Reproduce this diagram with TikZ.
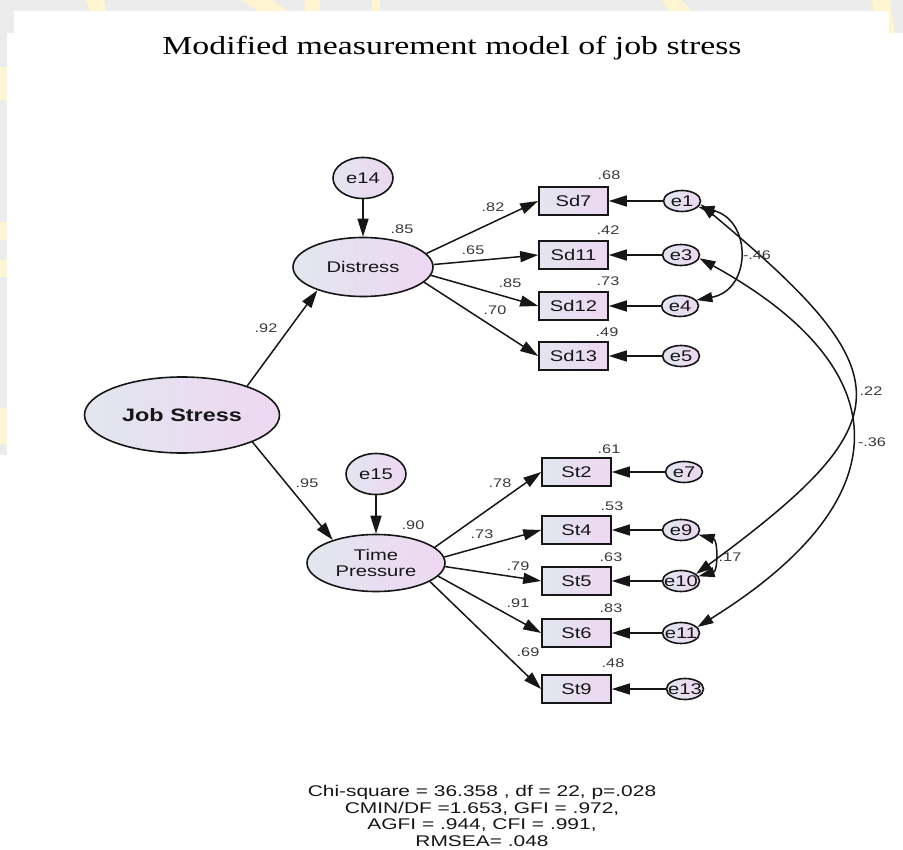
\documentclass[tikz,border=0pt]{standalone}
\usepackage{fontspec}
\usepackage{graphicx}
\usetikzlibrary{arrows.meta,shapes.geometric}
\newfontfamily\amosfont{Liberation Sans}
\newfontfamily\ttlfont{Liberation Serif}
\newcommand{\amoswide}[1]{\scalebox{1.3}[1]{#1}}
\newcommand{\etext}[1]{\makebox[0pt]{\amoswide{#1}}}
\newcommand{\ftline}[1]{\scalebox{1.35}[1]{#1}}

\definecolor{shadeL}{RGB}{226,230,239}
\definecolor{shadeR}{RGB}{238,215,242}
\definecolor{bggrey}{RGB}{235,236,235}
\definecolor{wmyellow}{RGB}{255,245,208}
\definecolor{ink}{RGB}{22,22,22}

\tikzset{
  amosfill/.style={left color=shadeL, right color=shadeR},
  latent/.style={ellipse, draw=ink, line width=1.6pt, amosfill, inner sep=0pt,
    text=ink, font=\amosfont\fontsize{15.5}{17}\selectfont},
  observed/.style={rectangle, draw=ink, line width=1.6pt, amosfill, inner sep=0pt,
    minimum width=69pt, minimum height=28pt, text=ink,
    font=\amosfont\fontsize{15.5}{17}\selectfont},
  errsmall/.style={ellipse, draw=ink, line width=1.6pt, amosfill, inner sep=0pt,
    minimum width=37pt, minimum height=21pt, text=ink,
    font=\amosfont\fontsize{15.5}{17}\selectfont},
  errbig/.style={ellipse, draw=ink, line width=1.6pt, amosfill, inner sep=0pt,
    minimum width=60pt, minimum height=41pt, text=ink,
    font=\amosfont\fontsize{15.5}{17}\selectfont},
  coef/.style={inner sep=0pt, text=ink!85, font=\amosfont\fontsize{12.5}{14}\selectfont},
  loading/.style={draw=ink, line width=1.5pt, -{Triangle[length=18pt,width=11pt]}},
  cov/.style={draw=ink, line width=1.5pt,
    {Triangle[length=16pt,width=10pt]}-{Triangle[length=16pt,width=10pt]}},
}

\begin{document}
\begin{tikzpicture}[x=1pt,y=-1pt]
\useasboundingbox (0,0) rectangle (903,850);

% page background with the grey frame strips and pale yellow marks
\fill[white] (0,0) rectangle (903,850);
\fill[bggrey] (0,0) rectangle (903,11);
\fill[bggrey] (0,11) rectangle (14,33);
\fill[bggrey] (889,11) rectangle (903,33);
\fill[bggrey] (0,33) rectangle (7,455);
\begin{scope}
  \clip (0,0) rectangle (903,11) (0,11) rectangle (14,33) (889,11) rectangle (903,33) (0,33) rectangle (7,455);
  \fill[wmyellow] (86,0) -- (104,0) -- (107,11) -- (90,11) -- cycle;
  \fill[wmyellow] (242,0) -- (272,0) -- (288,11) -- (258,11) -- cycle;
  \fill[wmyellow] (305,0) rectangle (320,11);
  \fill[wmyellow] (372,0) rectangle (380,11);
  \fill[wmyellow] (662,0) -- (682,0) -- (691,11) -- (670,11) -- cycle;
  \fill[wmyellow] (872,0) -- (890,0) -- (895,33) -- (878,33) -- cycle;
  \fill[wmyellow] (0,67) rectangle (7,100);
  \fill[wmyellow] (0,222) rectangle (7,240);
  \fill[wmyellow] (0,260) rectangle (7,277);
  \fill[wmyellow] (0,408) rectangle (7,444);
\end{scope}

% title
\node[anchor=base, inner sep=0pt, font=\ttlfont\fontsize{26}{30}\selectfont] (title) at (452,55)
  {\scalebox{1.3}[1]{Modified measurement model of job stress}};

% latent variables
\node[latent, minimum width=195pt, minimum height=76pt,
      font=\amosfont\bfseries\fontsize{18}{20}\selectfont] (js) at (182,415) {\amoswide{Job Stress}};
\node[latent, minimum width=140pt, minimum height=59pt] (dis) at (363,267) {\amoswide{Distress}};
\node[latent, minimum width=138pt, minimum height=57pt, align=center] (tp) at (376,563)
  {\amoswide{Time}\\[-1pt]\amoswide{Pressure}};

% disturbances
\node[errbig] (e14) at (363,178) {\amoswide{e14}};
\node[errbig] (e15) at (376,474) {\amoswide{e15}};

% observed indicators
\node[observed] (sd7)  at (573.5,201) {\amoswide{Sd7}};
\node[observed] (sd11) at (573.5,255) {\amoswide{Sd11}};
\node[observed] (sd12) at (573.5,306) {\amoswide{Sd12}};
\node[observed] (sd13) at (573.5,356) {\amoswide{Sd13}};
\node[observed] (st2)  at (576.5,472) {\amoswide{St2}};
\node[observed] (st4)  at (576.5,530) {\amoswide{St4}};
\node[observed] (st5)  at (576.5,581) {\amoswide{St5}};
\node[observed] (st6)  at (576.5,633) {\amoswide{St6}};
\node[observed] (st9)  at (576.5,689) {\amoswide{St9}};

% measurement errors
\node[errsmall] (e1)  at (682,201) {\etext{e1}};
\node[errsmall] (e3)  at (681,255) {\etext{e3}};
\node[errsmall] (e4)  at (680,306) {\etext{e4}};
\node[errsmall] (e5)  at (681,356) {\etext{e5}};
\node[errsmall] (e7)  at (684,472) {\etext{e7}};
\node[errsmall] (e9)  at (681,530) {\etext{e9}};
\node[errsmall] (e10) at (681,581) {\etext{e10}};
\node[errsmall] (e11) at (681,633) {\etext{e11}};
\node[errsmall] (e13) at (685,689) {\etext{e13}};

% structural paths
\draw[loading] (js.24) -- (dis.207);
\draw[loading] (js.-21) -- (tp.152);
\draw[loading] (e14) -- (dis);
\draw[loading] (e15) -- (tp);

% loadings
\draw[loading] (dis.12) -- (sd7.west);
\draw[loading] (dis.2) -- (sd11.west);
\draw[loading] (dis.-7) -- (sd12.west);
\draw[loading] (dis.-14) -- (sd13.west);
\draw[loading] (tp.15) -- (st2.west);
\draw[loading] (tp.5) -- (st4.west);
\draw[loading] (tp.-3) -- (st5.west);
\draw[loading] (tp.-12) -- (st6.west);
\draw[loading] (tp.-19) -- (st9.west);

% error paths
\foreach \e/\v in {e1/sd7,e3/sd11,e4/sd12,e5/sd13,e7/st2,e9/st4,e10/st5,e11/st6,e13/st9}
  \draw[loading] (\e.west) -- (\v.east);

% error covariances
\draw[cov] (e1.-20) .. controls (752,220) and (752,290) .. (e4.20);
\draw[cov] (e1.-10) .. controls (905,375) and (905,420) .. (e10.25);
\draw[cov] (e3.-10) .. controls (902,370) and (902,500) .. (e11.20);
\draw[cov] (e9.-15) .. controls (718,540) and (718,571) .. (e10.15);

% coefficients
\node[coef] (r85d) at (402,229) {\amoswide{.85}};
\node[coef] (r90t) at (413,525) {\amoswide{.90}};
\node[coef] (g92) at (266,328) {\amoswide{.92}};
\node[coef] (g95) at (307,483) {\amoswide{.95}};
\node[coef] (l82) at (493,207) {\amoswide{.82}};
\node[coef] (l65) at (473,250) {\amoswide{.65}};
\node[coef] (l85) at (510,283) {\amoswide{.85}};
\node[coef] (l70) at (495,310) {\amoswide{.70}};
\node[coef] (l78) at (500,483) {\amoswide{.78}};
\node[coef] (l73) at (482,534) {\amoswide{.73}};
\node[coef] (l79) at (518,566) {\amoswide{.79}};
\node[coef] (l91) at (518,603) {\amoswide{.91}};
\node[coef] (l69) at (528,652) {\amoswide{.69}};
\node[coef] (s68) at (609,175) {\amoswide{.68}};
\node[coef] (s42) at (608,230) {\amoswide{.42}};
\node[coef] (s73) at (608,281) {\amoswide{.73}};
\node[coef] (s49) at (607,332) {\amoswide{.49}};
\node[coef] (s61) at (609,449) {\amoswide{.61}};
\node[coef] (s53) at (612,506) {\amoswide{.53}};
\node[coef] (s63) at (611,557) {\amoswide{.63}};
\node[coef] (s83) at (611,608) {\amoswide{.83}};
\node[coef] (s48) at (613,663) {\amoswide{.48}};
\node[coef] (c46) at (757,255) {\amoswide{-.46}};
\node[coef] (c22) at (871,391) {\amoswide{.22}};
\node[coef] (c36) at (872,442) {\amoswide{-.36}};
\node[coef] (c17) at (730,557) {\amoswide{.17}};

% fit indices
\node[align=center, inner sep=0pt, text=ink, font=\amosfont\fontsize{15.5}{16.6}\selectfont] (fit) at (482,816)
  {\ftline{Chi-square = 36.358 , df = 22, p=.028}\\
   \ftline{CMIN/DF =1.653, GFI = .972,}\\
   \ftline{AGFI = .944, CFI = .991,}\\
   \ftline{RMSEA= .048}};
\end{tikzpicture}
\end{document}
